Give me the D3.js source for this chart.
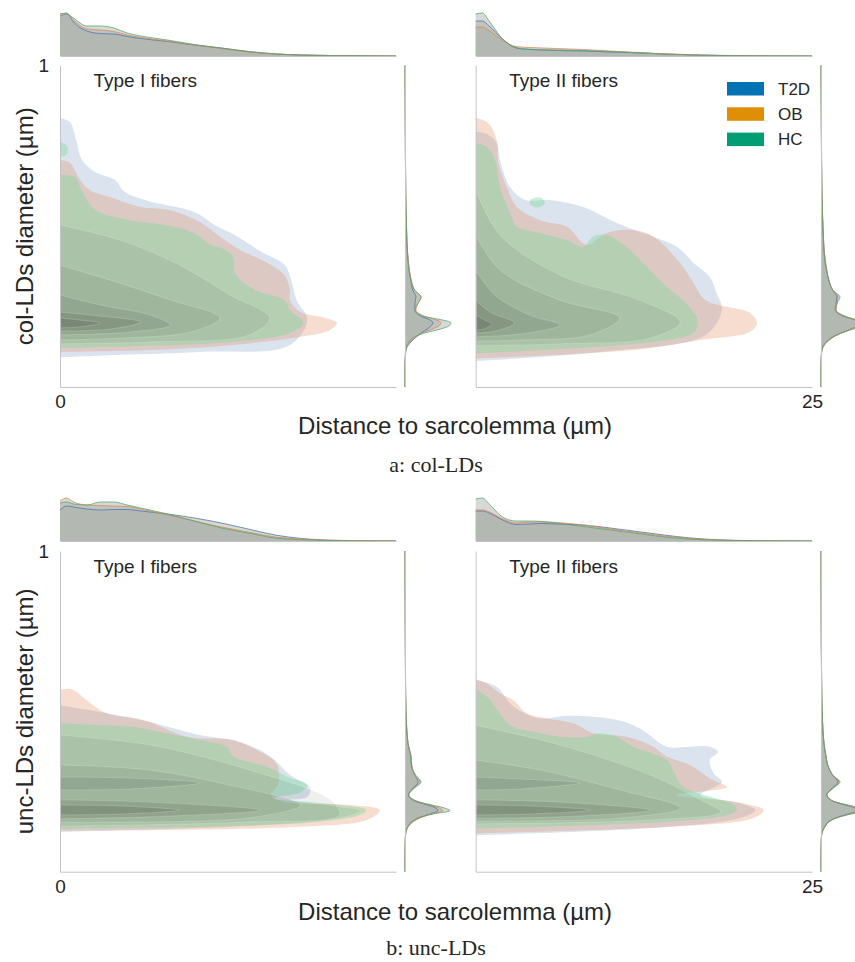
<!DOCTYPE html>
<html>
<head>
<meta charset="utf-8">
<script src="https://cdn.jsdelivr.net/npm/d3@7"></script>
<style>
  body { margin: 0; background: #fff; }
  svg text { font-family: "Liberation Sans", Arial, sans-serif; fill: #262626; }
  .caption { font-family: "Liberation Serif", "DejaVu Serif", serif; }
</style>
</head>
<body>
<div class="chart"></div>
<script>
// joint KDE plots: distance to sarcolemma vs LD diameter

var width = 855;
var height = 962;

const groups = ["T2D", "OB", "HC"];
// kde fills / marginal lines (seaborn deep) and legend swatches (colorblind)
const kdeColors = ["#4c72b0", "#dd8452", "#55a868"];
const legendColors = ["#0173b2", "#de8f05", "#029e73"];

// ---- marginal densities (arbitrary density units) ----
const distGrid = [0, 0.5, 1, 2, 3, 4, 5, 6, 8, 10, 12, 14, 16, 18, 20, 22, 25];

const topColI_T2D = [.42, .43, .34, .25, .225, .22, .195, .175, .145, .11, .08, .045, .022, .01, .005, .002, 0];
const topColI_OB  = [.40, .42, .36, .27, .26, .245, .21, .185, .15, .11, .075, .04, .02, .01, .006, .004, .001];
const topColI_HC  = [.40, .42, .38, .30, .30, .28, .23, .20, .16, .115, .08, .045, .02, .01, .004, .002, 0];

const topColII_T2D = [.35, .35, .30, .17, .08, .065, .06, .055, .05, .04, .032, .02, .012, .006, .003, .001, 0];
const topColII_OB  = [.29, .29, .255, .155, .095, .085, .08, .075, .065, .05, .035, .022, .013, .007, .004, .002, 0];
const topColII_HC  = [.42, .43, .35, .17, .085, .068, .062, .06, .055, .045, .033, .02, .01, .005, .002, .001, 0];

const topUncI_T2D = [.31, .35, .34, .32, .31, .315, .315, .30, .27, .23, .18, .12, .06, .025, .008, .003, 0];
const topUncI_OB  = [.40, .43, .39, .36, .355, .35, .345, .32, .26, .20, .14, .09, .04, .018, .008, .004, .001];
const topUncI_HC  = [.38, .39, .37, .36, .39, .39, .36, .33, .27, .20, .13, .08, .03, .012, .005, .002, 0];

const topUncII_T2D = [.30, .30, .28, .21, .165, .17, .175, .17, .16, .13, .095, .06, .03, .012, .005, .002, 0];
const topUncII_OB  = [.31, .31, .29, .22, .18, .19, .19, .185, .16, .12, .085, .05, .025, .01, .004, .002, 0];
const topUncII_HC  = [.42, .43, .37, .24, .20, .20, .195, .18, .145, .11, .075, .04, .018, .008, .003, .001, 0];

const diaGrid = [0, .06, .1, .12, .14, .16, .17, .18, .19, .2, .21, .22, .24, .26, .28, .3, .33, .36, .4, .5, .6, .8, 1];

const sideColI_T2D = [0, 0, .005, .015, .06, .13, .17, .22, .26, .28, .24, .16, .10, .10, .11, .08, .06, .045, .03, .015, .008, .003, 0];
const sideColI_OB  = [0, 0, .004, .012, .05, .13, .19, .27, .34, .36, .30, .20, .11, .13, .16, .10, .065, .045, .03, .015, .008, .003, 0];
const sideColI_HC  = [0, 0, .003, .01, .04, .12, .22, .35, .44, .46, .35, .18, .10, .13, .16, .10, .06, .04, .028, .014, .007, .003, 0];

const sideColII_T2D = [0, 0, .004, .015, .06, .15, .22, .30, .36, .38, .33, .24, .15, .15, .16, .12, .08, .06, .04, .02, .01, .004, 0];
const sideColII_OB  = [0, 0, .004, .015, .06, .15, .22, .30, .38, .40, .34, .24, .15, .16, .17, .12, .08, .06, .04, .02, .01, .004, 0];
const sideColII_HC  = [0, 0, .003, .012, .05, .14, .22, .32, .40, .42, .34, .22, .14, .16, .19, .12, .08, .055, .035, .018, .009, .003, 0];

const sideUncI_T2D = [0, 0, .003, .008, .03, .10, .16, .25, .33, .30, .20, .10, .035, .08, .13, .10, .065, .06, .03, .01, .005, .002, 0];
const sideUncI_OB  = [0, 0, .003, .008, .03, .10, .17, .27, .38, .33, .22, .11, .04, .09, .15, .10, .07, .06, .03, .01, .005, .002, 0];
const sideUncI_HC  = [0, 0, .002, .006, .03, .08, .15, .28, .45, .38, .24, .12, .035, .09, .16, .11, .065, .055, .03, .01, .005, .002, 0];

const sideUncII_T2D = [0, 0, .003, .01, .04, .10, .17, .27, .36, .33, .22, .12, .06, .11, .17, .12, .07, .05, .03, .012, .006, .002, 0];
const sideUncII_OB  = [0, 0, .003, .01, .04, .10, .18, .29, .40, .35, .23, .12, .06, .12, .18, .12, .07, .05, .03, .012, .006, .002, 0];
const sideUncII_HC  = [0, 0, .002, .008, .035, .09, .17, .30, .44, .38, .24, .12, .055, .12, .19, .12, .07, .05, .03, .012, .006, .002, 0];

// ---- outer kde contours [distance, diameter] ----
const outlineColI_T2D = [[0,.837],[.74,.824],[1.2,.768],[1.64,.706],[2.6,.669],[4.1,.644],[4.8,.607],[6.3,.582],[10,.544],[11.5,.504],[13,.473],[15,.42],[16.7,.38],[17.2,.333],[17.6,.27],[18.4,.21],[17.1,.13],[10.4,.109],[4.5,.1],[0,.092]];
const outlineColI_OB  = [[0,.706],[.74,.697],[1.5,.644],[2.2,.613],[3.7,.591],[6,.56],[8.2,.55],[10.4,.513],[11.9,.467],[13.4,.426],[15.3,.389],[16.7,.348],[17.1,.302],[17.1,.27],[17.9,.233],[19.7,.215],[20.6,.2],[20.1,.177],[17.9,.156],[12.9,.131],[6.7,.115],[0,.109]];
const outlineColI_HC  = [[0,.659],[1.1,.653],[1.6,.613],[2.6,.551],[5.2,.519],[7.8,.504],[10,.479],[11.2,.442],[11.9,.435],[12.8,.41],[13.1,.348],[14.5,.302],[16.7,.27],[17.1,.24],[18.1,.2],[17.1,.168],[12.6,.14],[6.7,.128],[0,.121]];
const blobColI_HC = [[0,.762],[.45,.753],[.6,.737],[.37,.719],[0,.716]];

const outlineColII_T2D = [[0,.794],[.84,.787],[1.56,.759],[1.8,.706],[2.55,.622],[3.67,.582],[5.5,.582],[7.98,.56],[10.5,.51],[13.2,.467],[15,.435],[16.2,.386],[17.4,.342],[17.9,.292],[18.3,.24],[17.1,.162],[9.2,.109],[0,.081]];
const outlineColII_OB  = [[0,.838],[.94,.82],[1.56,.768],[1.68,.697],[2.3,.623],[3.05,.561],[4.78,.519],[6.77,.499],[8.25,.442],[9.74,.479],[11.7,.488],[13.2,.468],[15.4,.374],[16.2,.323],[17.1,.27],[20.4,.23],[20.9,.198],[20.4,.172],[16.7,.146],[11.7,.115],[0,.089]];
const outlineColII_HC  = [[0,.758],[.82,.747],[1.43,.706],[1.8,.623],[2.55,.541],[3.05,.499],[4.78,.479],[6.77,.457],[8,.436],[8.72,.467],[9.74,.473],[11.2,.436],[12.7,.374],[13.9,.323],[15.4,.27],[16.4,.219],[16.5,.193],[16.2,.168],[14.2,.146],[9.2,.125],[0,.105]];
const blobColII_HC = [[4,.575],[4.3,.588],[4.9,.588],[5.15,.572],[4.8,.56],[4.2,.563]];

const outlineUncI_T2D = [[0,.519],[2.98,.498],[6.7,.467],[10.4,.426],[13.4,.404],[15.6,.361],[17.1,.302],[18.6,.261],[18.4,.233],[17.1,.224],[20.1,.205],[22.3,.19],[20.8,.168],[14.1,.143],[0,.124]];
const outlineUncI_OB  = [[0,.567],[.87,.569],[1.99,.535],[3.47,.494],[6.2,.473],[9.43,.421],[12.9,.411],[14.6,.38],[16.1,.338],[16.3,.3],[16.2,.27],[15.7,.24],[16.6,.218],[21.6,.208],[23.8,.192],[22.8,.161],[17.9,.14],[0,.128]];
const outlineUncI_HC  = [[0,.463],[2.98,.457],[5.4,.452],[7.9,.432],[10.4,.411],[12.4,.39],[12.9,.359],[15.4,.327],[16.9,.296],[18.4,.27],[17.9,.248],[15.8,.229],[19.3,.214],[22.8,.192],[22.3,.177],[17.9,.151],[0,.135]];

const outlineUncII_T2D = [[0,.598],[1.56,.577],[2.8,.515],[4.78,.478],[6.77,.486],[10.5,.473],[12.2,.447],[14.2,.39],[15.9,.39],[17.4,.39],[18,.374],[17.4,.348],[17.7,.307],[18.3,.28],[16.7,.239],[19.6,.214],[20.8,.192],[19.6,.167],[13,.136],[0,.114]];
const outlineUncII_OB  = [[0,.6],[.82,.587],[1.8,.556],[2.8,.535],[3.8,.494],[5.28,.478],[7.26,.463],[8.74,.432],[11.2,.421],[13.2,.39],[14.2,.359],[15.9,.333],[17.6,.286],[18.7,.264],[14.9,.239],[19.2,.218],[21.4,.192],[20.6,.167],[14.2,.14],[0,.12]];
const outlineUncII_HC  = [[0,.567],[.82,.546],[1.8,.494],[2.55,.457],[4.28,.437],[6.27,.421],[8.25,.421],[9.24,.432],[10.5,.421],[11.7,.39],[14.2,.348],[14.9,.296],[15.4,.265],[19.2,.208],[19.4,.192],[18.7,.177],[14.2,.156],[0,.135]];

// ---- inner (denser) contour levels, drawn over the HC fill ----
const coreColI = [
  [[0,.504],[4.46,.457],[8.93,.379],[12.65,.286],[15.6,.215],[14.1,.162],[6.7,.14],[0,.134]],
  [[0,.379],[3.7,.333],[8.2,.271],[11.9,.215],[9.7,.171],[4.46,.152],[0,.146]],
  [[0,.286],[3,.255],[6.7,.224],[8.2,.193],[5.2,.171],[0,.162]],
  [[0,.233],[2.2,.224],[6,.202],[3.7,.18],[0,.174]],
  [[0,.215],[1.5,.208],[3,.199],[1.5,.187],[0,.184]]
];
const coreColII = [
  [[0,.613],[1.8,.473],[6.27,.348],[12.2,.27],[15.2,.202],[13,.152],[6.27,.134],[0,.128]],
  [[0,.473],[1.8,.364],[6.27,.27],[10.7,.215],[8.5,.162],[3.3,.146],[0,.143]],
  [[0,.364],[1.43,.286],[4,.224],[6.27,.193],[3.3,.165],[0,.156]],
  [[0,.27],[1.06,.233],[2.9,.199],[1.43,.174],[0,.168]],
  [[0,.224],[.7,.208],[1.2,.196],[.6,.18],[0,.177]]
];
const coreUncI = [
  [[0,.426],[6.7,.395],[14.1,.317],[20.1,.224],[20.8,.177],[14.1,.155],[0,.142]],
  [[0,.333],[6.7,.317],[12.6,.27],[17.9,.208],[14.1,.168],[0,.155]],
  [[0,.295],[5.2,.292],[10.4,.277],[5.2,.258],[0,.255]],
  [[0,.224],[6.7,.217],[14.9,.192],[6.7,.171],[0,.165]],
  [[0,.208],[4.5,.205],[8.9,.192],[4.5,.18],[0,.177]]
];
const coreUncII = [
  [[0,.457],[6.27,.395],[12.96,.302],[16.7,.224],[18.2,.186],[12.96,.161],[0,.149]],
  [[0,.348],[4.78,.317],[10.7,.255],[15.2,.199],[10.7,.167],[0,.158]],
  [[0,.295],[3.3,.289],[7.76,.277],[3.3,.258],[0,.255]],
  [[0,.224],[6.27,.217],[12.96,.192],[6.27,.171],[0,.167]],
  [[0,.208],[4,.205],[8.5,.192],[4,.18],[0,.177]]
];
// darkening per inner level (outermost first)
const coreAlpha = [0.09, 0.11, 0.14, 0.17, 0.2];

// ---- layout ----
var rows = [
  {top: 65.5, bottom: 387, marg: 56, ylabel: "col-LDs diameter (\u00b5m)", caption: "a: col-LDs", xlabelY: 433.5, captionY: 472},
  {top: 551, bottom: 871.7, marg: 541, ylabel: "unc-LDs diameter (\u00b5m)", caption: "b: unc-LDs", xlabelY: 920, captionY: 955}
];
var cols = [
  {left: 60, right: 396, side: 405, title: "Type I fibers", tick: 0},
  {left: 475.7, right: 812, side: 821, title: "Type II fibers", tick: 25}
];

var panels = [
  {row: 0, col: 0, top: [topColI_T2D, topColI_OB, topColI_HC], side: [sideColI_T2D, sideColI_OB, sideColI_HC],
   outline: [outlineColI_T2D, outlineColI_OB, outlineColI_HC], blob: blobColI_HC, blobClosed: false, core: coreColI},
  {row: 0, col: 1, top: [topColII_T2D, topColII_OB, topColII_HC], side: [sideColII_T2D, sideColII_OB, sideColII_HC],
   outline: [outlineColII_T2D, outlineColII_OB, outlineColII_HC], blob: blobColII_HC, blobClosed: true, core: coreColII},
  {row: 1, col: 0, top: [topUncI_T2D, topUncI_OB, topUncI_HC], side: [sideUncI_T2D, sideUncI_OB, sideUncI_HC],
   outline: [outlineUncI_T2D, outlineUncI_OB, outlineUncI_HC], blob: null, core: coreUncI},
  {row: 1, col: 1, top: [topUncII_T2D, topUncII_OB, topUncII_HC], side: [sideUncII_T2D, sideUncII_OB, sideUncII_HC],
   outline: [outlineUncII_T2D, outlineUncII_OB, outlineUncII_HC], blob: null, core: coreUncII}
];

const fillColors = ["#4c72b0", "#dd8452", "#7ad99a"];
const fillAlpha = [0.2, 0.28, 0.4];

const svg = d3.select(".chart")
              .append("svg")
              .attr("width", width)
              .attr("height", height);
const defs = svg.append("defs");

panels.forEach((p, pi) => {
  var r = rows[p.row], c = cols[p.col];
  var x = d3.scaleLinear().domain([0, 25]).range([c.left, c.right]);
  var y = d3.scaleLinear().domain([0, 1]).range([r.bottom, r.top]);
  var yTop = d3.scaleLinear().domain([0, 0.44]).range([r.marg, r.marg - 44]);
  var xSide = d3.scaleLinear().domain([0, 0.44]).range([c.side, c.side + 44]);

  var g = svg.append("g");

  defs.append("clipPath").attr("id", "clip" + pi)
      .append("rect")
      .attr("x", c.left).attr("y", r.top)
      .attr("width", c.right - c.left).attr("height", r.bottom - r.top);

  // open curve along the contour, closed with a straight edge at distance 0
  var cline = d3.line().x(d => x(d[0])).y(d => y(d[1])).curve(d3.curveCatmullRom.alpha(0.5));
  var closedLine = d3.line().x(d => x(d[0])).y(d => y(d[1])).curve(d3.curveCatmullRomClosed.alpha(0.5));

  var cg = g.append("g").attr("clip-path", "url(#clip" + pi + ")");
  p.outline.forEach((pts, i) => {
    cg.append("path")
      .attr("d", cline(pts) + "Z")
      .attr("fill", fillColors[i])
      .attr("fill-opacity", fillAlpha[i]);
  });
  if (p.blob) {
    cg.append("path")
      .attr("d", p.blobClosed ? closedLine(p.blob) : cline(p.blob) + "Z")
      .attr("fill", fillColors[2])
      .attr("fill-opacity", fillAlpha[2]);
  }
  p.core.forEach((pts, k) => {
    cg.append("path")
      .attr("d", cline(pts) + "Z")
      .attr("fill", "#46503f")
      .attr("fill-opacity", coreAlpha[k])
      .attr("stroke", "#ffffff")
      .attr("stroke-opacity", 0.3)
      .attr("stroke-width", 0.6);
  });

  // top marginal
  var topArea = d3.area().x((d, i) => x(distGrid[i])).y0(r.marg).y1(d => yTop(d)).curve(d3.curveMonotoneX);
  var topLine = d3.line().x((d, i) => x(distGrid[i])).y(d => yTop(d)).curve(d3.curveMonotoneX);
  p.top.forEach((vals, i) => {
    g.append("path").attr("d", topArea(vals)).attr("fill", "#a4aaa4").attr("fill-opacity", 0.45);
  });
  p.top.forEach((vals, i) => {
    g.append("path").attr("d", topLine(vals)).attr("fill", "none")
     .attr("stroke", kdeColors[i]).attr("stroke-width", 0.9).attr("stroke-opacity", 0.85);
  });

  // side marginal
  var sideArea = d3.area().y((d, i) => y(diaGrid[i])).x0(c.side).x1(d => xSide(d)).curve(d3.curveMonotoneY);
  var sideLine = d3.line().y((d, i) => y(diaGrid[i])).x(d => xSide(d)).curve(d3.curveMonotoneY);
  p.side.forEach((vals, i) => {
    g.append("path").attr("d", sideArea(vals)).attr("fill", "#a4aaa4").attr("fill-opacity", 0.45);
  });
  p.side.forEach((vals, i) => {
    g.append("path").attr("d", sideLine(vals)).attr("fill", "none")
     .attr("stroke", kdeColors[i]).attr("stroke-width", 0.9).attr("stroke-opacity", 0.85);
  });

  // axes (spines only, single labelled tick)
  var yAxis = d3.axisLeft(y).tickValues(p.col === 0 ? [1] : []).tickFormat(d3.format("d"))
                .tickSize(0).tickSizeOuter(0).tickPadding(11);
  var xAxis = d3.axisBottom(x).tickValues([c.tick]).tickFormat(d3.format("d"))
                .tickSize(0).tickSizeOuter(0).tickPadding(8);
  var margX = d3.axisBottom(x).tickValues([]).tickSizeOuter(0);
  var margY = d3.axisLeft(y).tickValues([]).tickSizeOuter(0);

  [[yAxis, "translate(" + c.left + ",0)"],
   [xAxis, "translate(0," + r.bottom + ")"],
   [margX, "translate(0," + r.marg + ")"],
   [margY, "translate(" + c.side + ",0)"]].forEach(a => {
    g.append("g").attr("transform", a[1]).call(a[0])
     .call(s => s.select(".domain").attr("stroke", "#c4c4c4").attr("stroke-width", 1))
     .call(s => s.selectAll(".tick line").remove())
     .call(s => s.selectAll(".tick text").attr("font-size", 19).attr("fill", "#262626")
                 .attr("font-family", "Liberation Sans, Arial, sans-serif"));
  });

  g.append("text")
   .attr("x", c.left + 33.5).attr("y", r.top + 21.5)
   .attr("font-size", 19)
   .text(c.title);
});

// row labels and captions
rows.forEach(r => {
  svg.append("text")
     .attr("transform", "translate(33," + ((r.top + r.bottom) / 2) + ") rotate(-90)")
     .attr("text-anchor", "middle")
     .attr("font-size", 24)
     .text(r.ylabel);
  svg.append("text")
     .attr("x", 455).attr("y", r.xlabelY)
     .attr("text-anchor", "middle")
     .attr("font-size", 24)
     .text("Distance to sarcolemma (\u00b5m)");
  svg.append("text")
     .attr("class", "caption")
     .attr("x", 436).attr("y", r.captionY)
     .attr("text-anchor", "middle")
     .attr("font-size", 22)
     .text(r.caption);
});

// legend in the Type II col-LDs panel
var legend = svg.append("g").attr("transform", "translate(727,82)");
groups.forEach((name, i) => {
  legend.append("rect")
        .attr("x", 0).attr("y", i * 25.3)
        .attr("width", 37).attr("height", 13.5)
        .attr("fill", legendColors[i]);
  legend.append("text")
        .attr("x", 51).attr("y", i * 25.3 + 12.5)
        .attr("font-size", 17)
        .text(name);
});
</script>
</body>
</html>
